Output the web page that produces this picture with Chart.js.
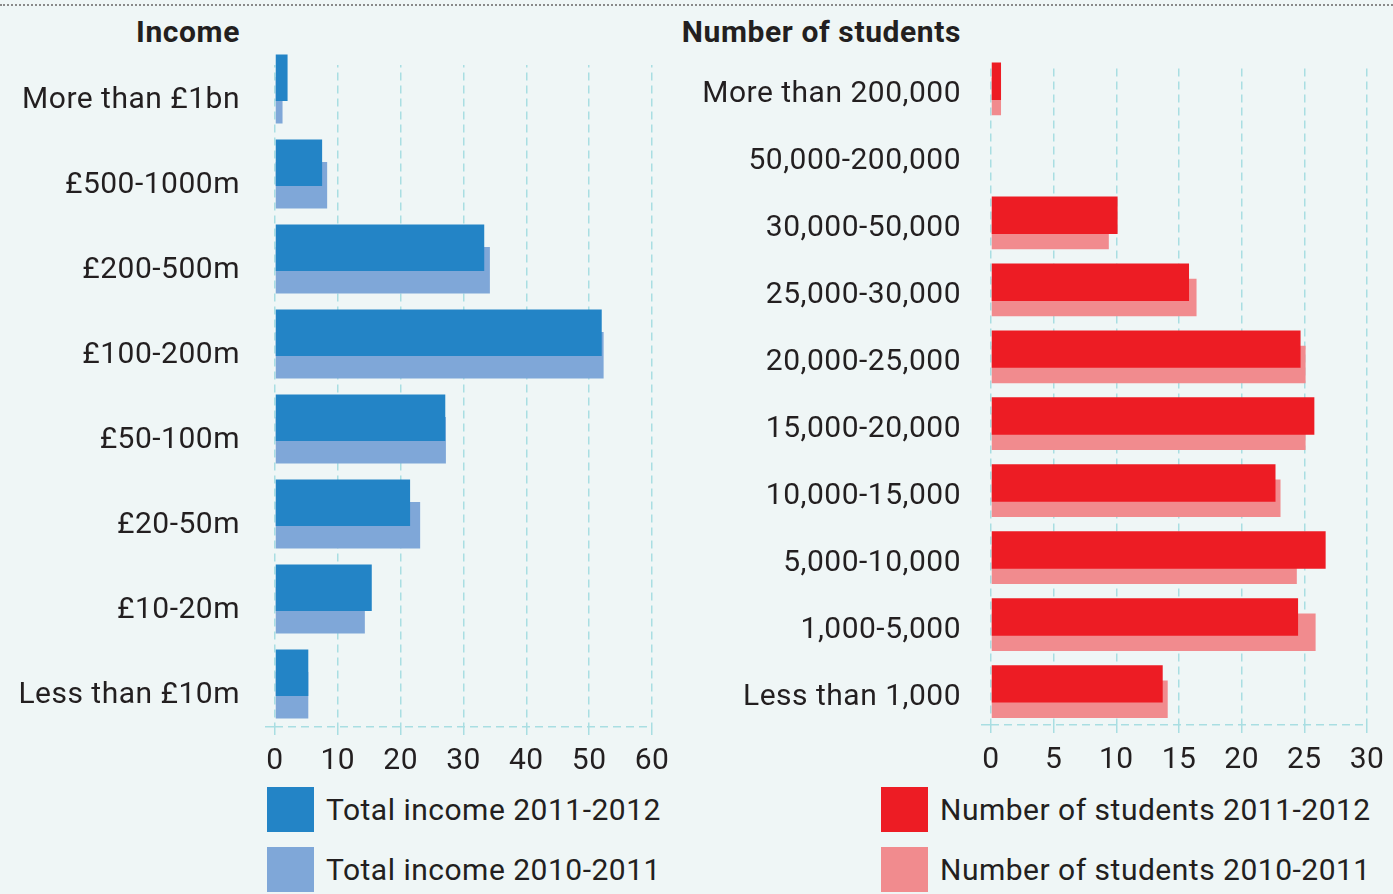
<!DOCTYPE html>
<html>
<head>
<meta charset="utf-8">
<script src="https://cdn.jsdelivr.net/npm/chart.js@4.4.1/dist/chart.umd.min.js"></script>
<style>
  html, body { margin: 0; padding: 0; background: #eff6f6; }
  body { width: 1393px; height: 894px; position: relative; overflow: hidden; font-family: Roboto, sans-serif; color: #231f20; }
  .dots { position: absolute; left: 0; top: 4px; width: 1393px; border-top: 2px dotted #8a8a8a; }
  .title { position: absolute; top: 14px; font-size: 30px; font-weight: bold; line-height: 36px; text-align: right; letter-spacing: 0.6px; }
  .chartbox { position: absolute; top: 0; }
  .legend { position: absolute; top: 787px; }
  .legend .row { display: flex; align-items: center; height: 45px; margin-bottom: 15px; font-size: 30px; letter-spacing: 0.5px; }
  .legend .box { width: 47px; height: 45px; margin-right: 12px; }
</style>
</head>
<body>
<div class="dots"></div>
<div class="title" style="left:0; width:240px;">Income</div>
<div class="title" style="left:600px; width:361px;">Number of students</div>
<div class="chartbox" style="left:0;"><canvas id="incomeChart" width="690" height="780"></canvas></div>
<div class="chartbox" style="left:690px;"><canvas id="studentsChart" width="703" height="780"></canvas></div>
<div class="legend" id="incomeLegend" style="left:267px;"></div>
<div class="legend" id="studentsLegend" style="left:881px;"></div>
<script>
const incomeLabels = ['More than £1bn', '£500-1000m', '£200-500m', '£100-200m', '£50-100m', '£20-50m', '£10-20m', 'Less than £10m'];
const income2012 = [2.0, 7.5, 33.3, 52.0, 27.1, 21.5, 15.4, 5.3];
const income2011 = [1.2, 8.3, 34.2, 52.3, 27.2, 23.1, 14.3, 5.3];
const incomeSeries = ['Total income 2011-2012', 'Total income 2010-2011'];

const studentLabels = ['More than 200,000', '50,000-200,000', '30,000-50,000', '25,000-30,000', '20,000-25,000',
    '15,000-20,000', '10,000-15,000', '5,000-10,000', '1,000-5,000', 'Less than 1,000'];
const students2012 = [0.8, null, 10.1, 15.8, 24.7, 25.8, 22.7, 26.7, 24.5, 13.7];
const students2011 = [0.8, null, 9.4, 16.4, 25.1, 25.1, 23.1, 24.4, 25.9, 14.1];
const studentSeries = ['Number of students 2011-2012', 'Number of students 2010-2011'];

const incomeAxis = { max: 60, step: 10 };
const studentAxis = { max: 30, step: 5 };

const BG = '#eff6f6';
const GRID = '#a9dee2';
const TEXT = '#231f20';

Chart.defaults.font.family = 'Roboto, sans-serif';
Chart.defaults.font.size = 30;
Chart.defaults.color = TEXT;

// hides the part of the vertical grid lines above the first bar
const gridTopCover = {
    id: 'gridTopCover',
    beforeDatasetsDraw(chart, args, opts) {
        const { ctx, chartArea: a } = chart;
        ctx.save();
        ctx.fillStyle = BG;
        ctx.fillRect(a.left - 3, a.top - 1, a.right - a.left + 6, opts.top - a.top + 1);
        ctx.restore();
    }
};

// slightly wider text, closer to the original typeface
const spacing = {
    id: 'spacing',
    beforeLayout(chart) { chart.ctx.letterSpacing = '0.5px'; },
    beforeDraw(chart) { chart.ctx.letterSpacing = '0.5px'; }
};

function makeChart(id, labels, series, values, colors, axis, geo) {
    const ctx = document.getElementById(id).getContext('2d');
    return new Chart(ctx, {
        type: 'bar',
        data: {
            labels: labels,
            datasets: values.map((v, i) => ({
                label: series[i],
                data: v,
                backgroundColor: colors[i],
                borderWidth: 0,
                categoryPercentage: geo.catPct,
                barPercentage: geo.barPct
            }))
        },
        options: {
            indexAxis: 'y',
            responsive: false,
            animation: false,
            layout: { padding: { left: 0, right: geo.padRight, top: geo.padTop, bottom: 0 } },
            plugins: {
                legend: { display: false },
                tooltip: { enabled: false },
                gridTopCover: { top: 65 }
            },
            scales: {
                x: {
                    min: 0,
                    max: axis.max,
                    ticks: { stepSize: axis.step, padding: 5, color: TEXT },
                    grid: { color: GRID, lineWidth: 1.5, tickLength: 12, tickBorderDash: [8, 5] },
                    border: { display: false, dash: [8, 5] },
                    afterFit: s => { s.height = 780 - geo.bottom; }
                },
                y: {
                    ticks: { autoSkip: false, padding: geo.labelGap - 10, labelOffset: geo.labelShift, color: TEXT },
                    grid: {
                        color: c => c.type === 'scale' ? GRID : 'transparent',
                        lineWidth: 1.5,
                        tickLength: 10
                    },
                    border: { display: false, dash: [8, 5] },
                    afterFit: s => { s.width = geo.left; }
                }
            }
        },
        plugins: [gridTopCover, spacing]
    });
}

function makeLegend(id, series, colors) {
    const el = document.getElementById(id);
    series.forEach((name, i) => {
        const row = document.createElement('div');
        row.className = 'row';
        const box = document.createElement('div');
        box.className = 'box';
        box.style.background = colors[i];
        const txt = document.createElement('span');
        txt.textContent = name;
        row.appendChild(box);
        row.appendChild(txt);
        el.appendChild(row);
    });
}

const blues = ['#2384c6', '#7fa7d8'];
const reds = ['#ed1c24', '#f18b8e'];

makeChart('incomeChart', incomeLabels, incomeSeries, [income2012, income2011], blues, incomeAxis,
    { left: 275, padRight: 38, padTop: 46.5, bottom: 726.5, catPct: 0.53, barPct: 2.07, labelGap: 35, labelShift: 11 });
makeChart('studentsChart', studentLabels, studentSeries, [students2012, students2011], reds, studentAxis,
    { left: 301, padRight: 26, padTop: 55.5, bottom: 725, catPct: 0.457, barPct: 2.45, labelGap: 30, labelShift: 6 });

makeLegend('incomeLegend', incomeSeries, blues);
makeLegend('studentsLegend', studentSeries, reds);
</script>
</body>
</html>
